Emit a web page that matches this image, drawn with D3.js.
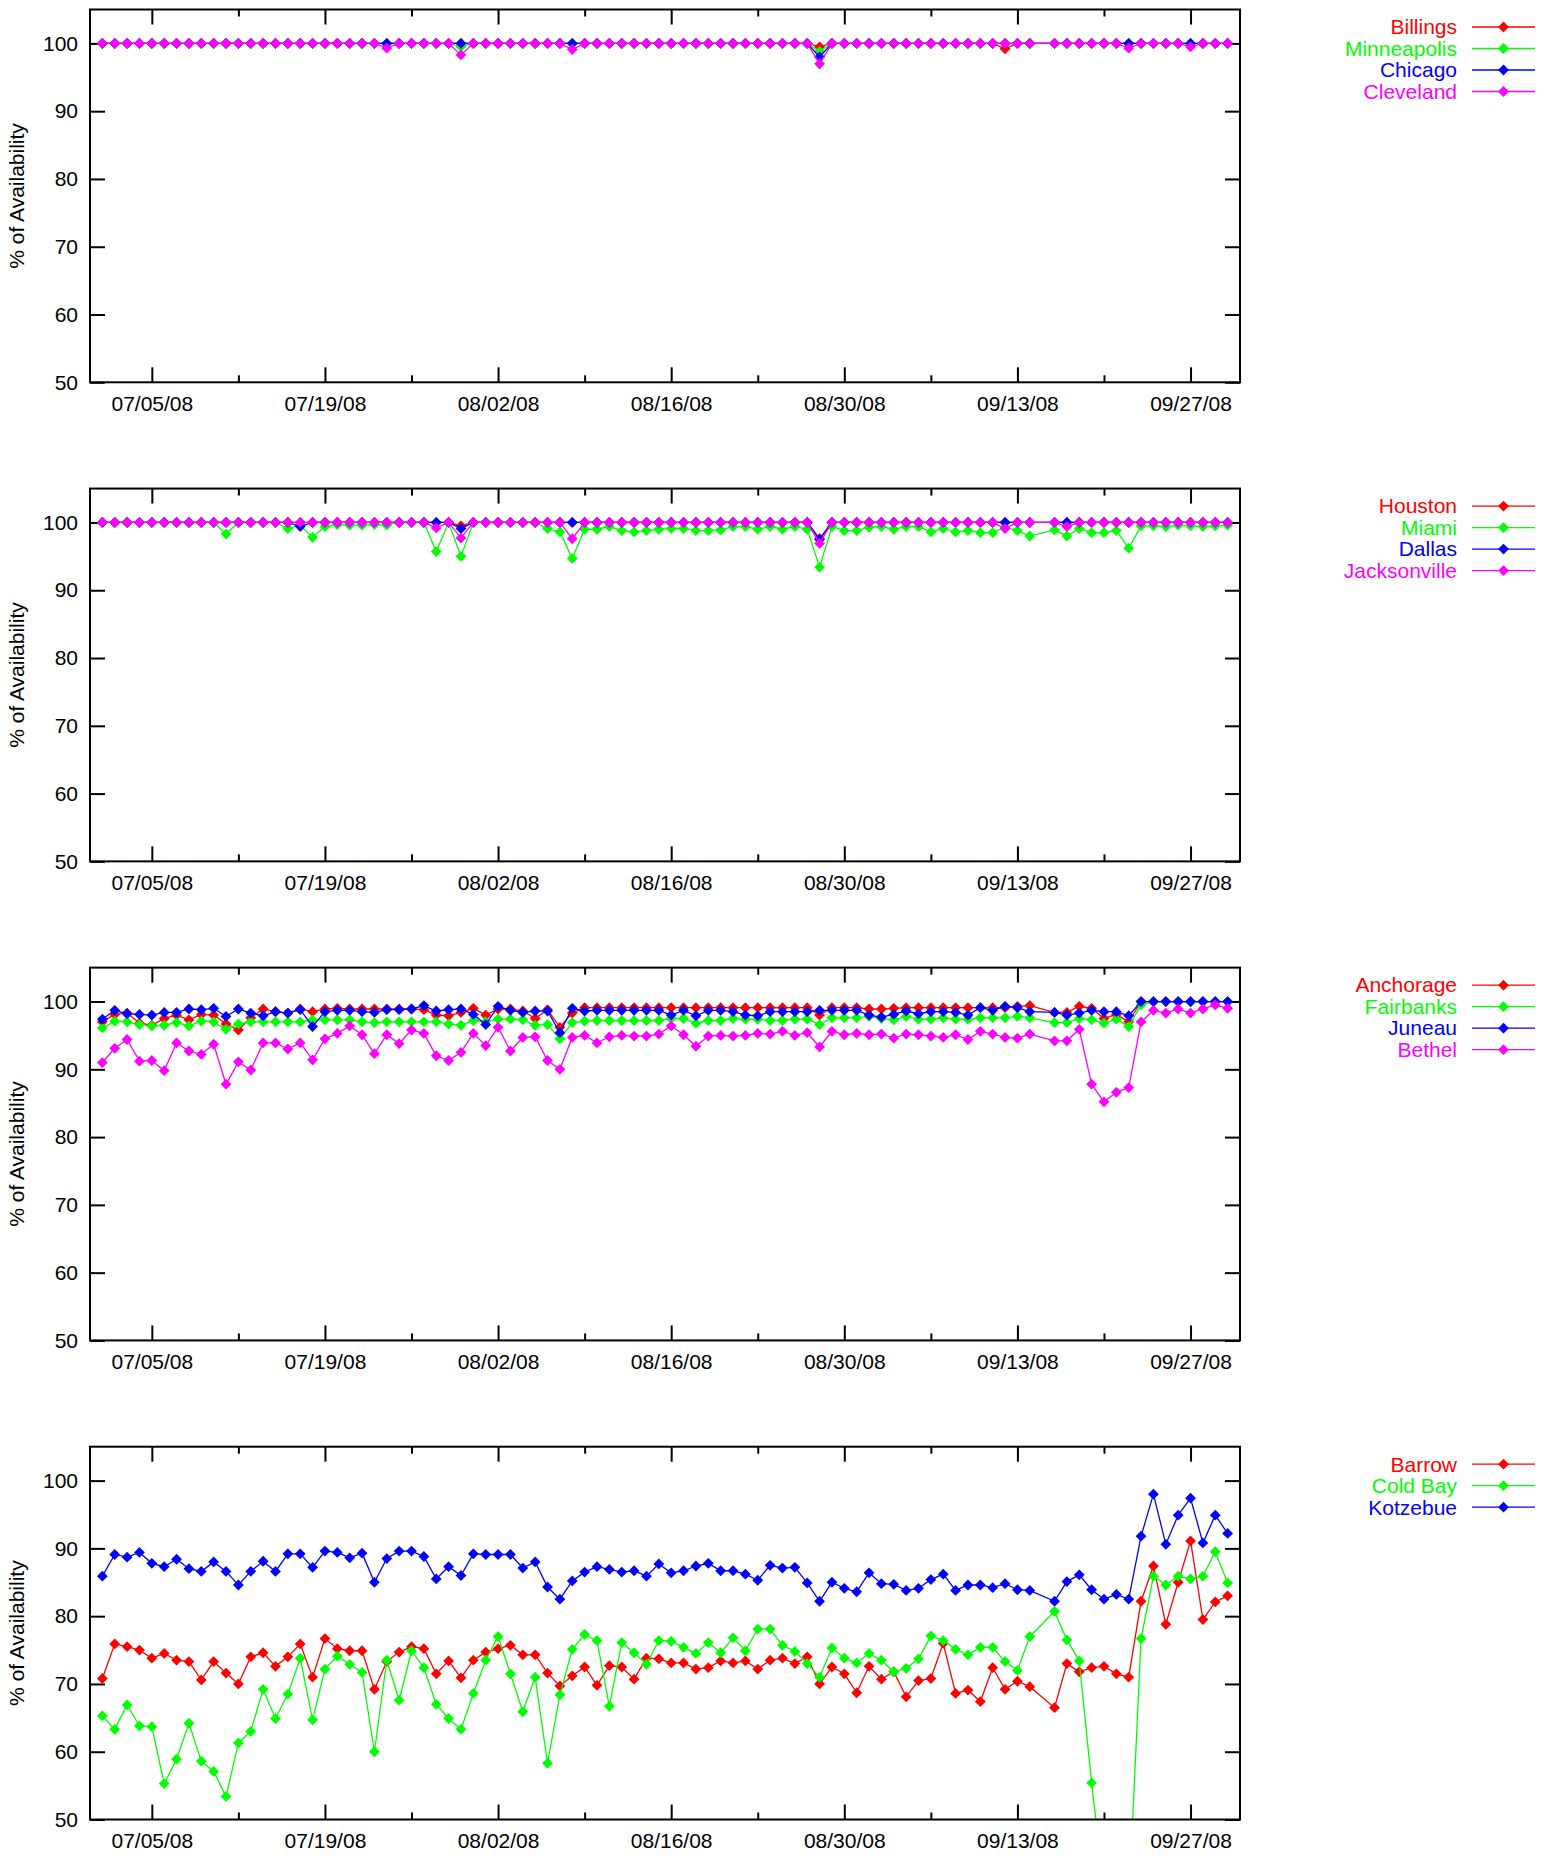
<!DOCTYPE html>
<html>
<head>
<meta charset="utf-8">
<script src="https://cdn.jsdelivr.net/npm/d3@7"></script>
<style>
  html, body { margin: 0; padding: 0; background: #fff; }
  svg { display: block; }
</style>
</head>
<body>
<svg id="chart" width="1551" height="1860"></svg>
<script>
// ---------- DATA ----------
const dates = [
  "07/01","07/02","07/03","07/04","07/05","07/06","07/07","07/08","07/09","07/10",
  "07/11","07/12","07/13","07/14","07/15","07/16","07/17","07/18","07/19","07/20",
  "07/21","07/22","07/23","07/24","07/25","07/26","07/27","07/28","07/29","07/30",
  "07/31",
  "08/01","08/02","08/03","08/04","08/05","08/06","08/07","08/08","08/09","08/10",
  "08/11","08/12","08/13","08/14","08/15","08/16","08/17","08/18","08/19","08/20",
  "08/21","08/22","08/23","08/24","08/25","08/26","08/27","08/28","08/29","08/30",
  "08/31",
  "09/01","09/02","09/03","09/04","09/05","09/06","09/07","09/08","09/09","09/10",
  "09/11","09/12","09/13","09/14",
  "09/16","09/17","09/18","09/19","09/20","09/21","09/22","09/23","09/24","09/25",
  "09/26","09/27","09/28","09/29","09/30"
];

const majorTickLabels = ["07/05/08","07/19/08","08/02/08","08/16/08","08/30/08","09/13/08","09/27/08"];
const minorTickLabels = ["07/12/08","07/26/08","08/09/08","08/23/08","09/06/08","09/20/08"];
const yTicks = [50, 60, 70, 80, 90, 100];

// Panel 1
const billings = [
  100,100,100,100,100,100,100,100,100,100, 100,100,100,100,100,100,100,100,100,100, 100,100,100,100,100,100,100,100,100,100, 100,
  100,100,100,100,100,100,100,100,100,100, 100,100,100,100,100,100,100,100,100,100, 100,100,100,100,100,100,100,99.5,100,100, 100,
  100,100,100,100,100,100,100,100,100,100, 100,99.2,100,100, 100,100,100,100,100,100,100,100,100,100, 100,100,100,100,100
];
const minneapolis = [
  100,100,100,100,100,100,100,100,100,100, 100,100,100,100,100,100,100,100,100,100, 100,100,100,100,100,100,100,100,100,99.5, 100,
  100,100,100,100,100,100,100,100,100,100, 100,100,100,100,100,100,100,100,100,100, 100,100,100,100,100,100,100,98.8,100,100, 100,
  100,100,100,100,100,100,100,100,100,100, 100,100,100,100, 100,100,100,100,100,100,100,100,100,100, 100,100,100,100,100
];
const chicago = [
  100,100,100,100,100,100,100,100,100,100, 100,100,100,100,100,100,100,100,100,100, 100,100,100,100,100,100,100,100,100,100, 100,
  100,100,100,100,100,100,100,100,100,100, 100,100,100,100,100,100,100,100,100,100, 100,100,100,100,100,100,100,98.0,100,100, 100,
  100,100,100,100,100,100,100,100,100,100, 100,100,100,100, 100,100,100,100,100,100,100,100,100,100, 100,100,100,100,100
];
const cleveland = [
  100,100,100,100,100,100,100,100,100,100, 100,100,100,100,100,100,100,100,100,100, 100,100,100,99.3,100,100,100,100,100,98.3, 100,
  100,100,100,100,100,100,100,99.1,100,100, 100,100,100,100,100,100,100,100,100,100, 100,100,100,100,100,100,100,97.0,100,100, 100,
  100,100,100,100,100,100,100,100,100,100, 100,100,100,100, 100,100,100,100,100,100,99.3,100,100,100, 100,99.5,100,100,100
];

// Panel 2
const houston = [
  100,100,100,100,100,100,100,100,100,100, 100,100,100,100,100,100,100,100,100,100, 100,100,100,100,100,100,100,100,100,99.5, 100,
  100,100,100,100,100,100,100,100,100,100, 100,100,100,100,100,100,100,100,100,100, 100,100,100,100,100,100,100,97.6,100,100, 100,
  100,100,100,100,100,100,100,100,100,100, 100,100,100,100, 100,100,100,100,100,100,100,100,100,100, 100,100,100,100,100
];
const miami = [
  100,100,100,100,100,100,100,100,100,100, 98.3,100,100,100,100,99.1,99.6,97.8,99.4,99.7, 99.6,99.6,99.7,99.6,100,100,100,95.7,100,95.0, 100,
  100,100,100,100,100,99.1,98.6,94.7,99.0,99.0, 99.4,98.8,98.6,98.8,99.0,99.1,99.1,98.8,98.8,98.9, 99.4,99.4,99.0,99.4,99.0,99.4,99.0,93.4,99.4,98.8, 98.8,
  99.3,99.4,99.0,99.4,99.4,98.6,99.1,98.6,98.8,98.5, 98.5,99.3,98.8,98.0, 98.9,98.0,99.1,98.5,98.5,98.8,96.2,99.5,99.5,99.4, 99.6,99.5,99.4,99.5,99.6
];
const dallas = [
  100,100,100,100,100,100,100,100,100,100, 100,100,100,100,100,100,99.4,100,100,100, 100,100,100,100,100,100,100,100,100,99.1, 100,
  100,100,100,100,100,100,100,100,100,100, 100,100,100,100,100,100,100,100,100,100, 100,100,100,100,100,100,100,97.5,100,100, 100,
  100,100,100,100,100,100,100,100,100,100, 100,100,100,100, 100,100,100,100,100,100,100,100,100,100, 100,100,100,100,100
];
const jacksonville = [
  100,100,100,100,100,100,100,100,100,100, 100,100,100,100,100,100,100,100,100,100, 100,100,100,100,100,100,100,99.2,100,97.7, 100,
  100,100,100,100,100,100,100,97.6,100,100, 100,100,100,100,100,100,100,100,100,100, 100,100,100,100,100,100,100,96.9,100,100, 100,
  100,100,100,100,100,100,100,100,100,100, 100,99.1,100,100, 100,99.4,100,100,100,100,100,100,100,100, 100,100,100,100,100
];

// Panel 3
const anchorage = [
  97.0,98.1,98.3,96.8,96.5,97.5,98.0,97.3,98.1,98.0, 96.7,95.8,97.6,98.9,98.5,98.3,98.9,98.5,98.9,99.0, 98.9,98.9,98.9,98.9,98.9,98.9,98.8,98.0,97.9,98.4, 99.0,
  98.0,98.9,98.9,98.6,97.5,98.8,96.2,98.3,99.1,99.1, 99.1,99.1,99.1,99.1,99.1,99.1,99.1,99.1,99.1,99.1, 99.1,99.1,99.1,99.1,99.1,99.1,99.1,98.0,99.1,99.1, 99.1,
  98.9,98.9,99.0,99.1,99.1,99.1,99.1,99.1,99.1,99.1, 99.1,99.1,99.3,99.4, 98.4,98.4,99.3,99.0,97.5,98.1,97.0,100,100,100, 100,100,100,100,100
];
const fairbanks = [
  96.1,97.1,97.0,96.6,96.4,96.5,96.9,96.4,97.1,97.0, 95.9,96.7,97.0,97.0,97.0,97.0,97.0,97.3,97.3,97.3, 97.3,97.0,96.9,97.0,97.0,97.0,97.0,97.0,96.7,96.5, 97.2,
  97.0,97.4,97.4,97.3,96.5,96.6,94.5,96.9,97.1,97.2, 97.2,97.2,97.2,97.2,97.2,97.5,97.5,96.8,97.2,97.2, 97.5,97.4,97.4,97.2,97.2,97.4,97.4,96.6,97.6,97.6, 97.6,
  97.8,97.5,97.3,97.8,97.4,97.4,97.6,97.4,97.4,97.6, 97.6,97.6,97.8,97.6, 96.9,96.9,97.5,97.3,96.8,97.4,96.3,99.5,100,100, 100,99.9,100,100,100
];
const juneau = [
  97.4,98.7,98.2,98.1,98.0,98.4,98.4,98.9,98.8,99.0, 97.8,98.9,98.3,97.9,98.5,98.3,98.8,96.3,98.5,98.7, 98.7,98.5,98.4,98.8,98.8,98.9,99.4,98.6,98.8,98.9, 98.1,
  96.6,99.3,98.7,98.4,98.6,98.6,95.4,99.0,98.6,98.7, 98.7,98.7,98.7,98.7,98.7,98.0,98.7,97.9,98.7,98.7, 98.5,98.0,97.9,98.5,98.5,98.5,98.5,98.7,98.7,98.7, 98.7,
  98.0,97.7,98.1,98.6,98.2,98.5,98.5,98.4,98.0,99.1, 98.7,99.3,99.1,98.5, 98.4,98.0,98.3,98.7,98.5,98.5,97.9,100,100,100, 100,100,100,100,100
];
const bethel = [
  91.0,93.1,94.4,91.2,91.3,89.8,93.9,92.7,92.2,93.7, 87.8,91.1,89.9,93.9,93.9,93.0,93.9,91.4,94.5,95.3, 96.4,95.1,92.3,95.1,93.8,95.8,95.3,92.0,91.3,92.5, 95.3,
  93.5,96.2,92.7,94.7,94.8,91.3,90.0,94.7,95.0,93.9, 94.8,95.0,94.9,94.9,95.2,96.4,95.1,93.4,94.9,95.0, 94.9,95.0,95.3,95.2,95.6,95.0,95.4,93.3,95.6,95.1, 95.3,
  95.1,95.2,94.6,95.2,95.1,94.9,94.7,95.1,94.4,95.6, 95.2,94.7,94.6,95.2, 94.2,94.2,95.9,87.8,85.2,86.6,87.3,97.0,98.7,98.3, 98.9,98.3,98.9,99.5,99.0
];

// Panel 4
const barrow = [
  70.8,75.9,75.5,75.0,73.8,74.5,73.5,73.3,70.6,73.3, 71.6,70.0,74.0,74.6,72.6,74.0,75.9,71.0,76.7,75.2, 74.9,74.9,69.2,73.3,74.7,75.5,75.2,71.5,73.4,70.9, 73.5,
  74.7,75.2,75.7,74.3,74.3,71.6,69.7,71.2,72.5,69.8, 72.7,72.5,70.7,73.8,73.7,73.1,73.1,72.2,72.4,73.4, 73.1,73.4,72.2,73.5,73.8,73.0,74.0,70.0,72.5,71.5, 68.7,
  72.6,70.7,71.8,68.1,70.5,70.8,76.0,68.6,69.1,67.4, 72.4,69.2,70.4,69.6, 66.5,73.0,71.8,72.4,72.6,71.5,71.0,82.2,87.4,78.8, 85.0,91.1,79.5,82.1,83.0
];
const coldBay = [
  65.3,63.3,66.9,63.8,63.7,55.3,58.9,64.2,58.6,57.1, 53.4,61.3,63.0,69.2,64.9,68.5,73.8,64.7,72.2,74.1, 72.9,71.7,60.0,73.5,67.6,74.9,72.4,67.0,64.9,63.3, 68.6,
  73.5,77.0,71.5,65.9,71.0,58.3,68.4,75.1,77.3,76.4, 66.7,76.1,74.6,72.9,76.4,76.3,75.4,74.5,76.1,74.6, 76.8,74.9,78.1,78.1,75.7,74.8,73.0,71.0,75.3,73.8, 73.1,
  74.5,73.5,71.8,72.3,73.7,77.1,76.4,75.1,74.3,75.4, 75.4,73.3,72.0,77.0, 80.7,76.5,73.4,55.4,39.5,38.0,37.4,76.7,85.9,84.6, 85.9,85.5,85.9,89.5,84.9
];
const kotzebue = [
  85.9,89.1,88.7,89.4,87.8,87.3,88.4,87.0,86.6,88.0, 86.6,84.6,86.6,88.1,86.6,89.2,89.2,87.2,89.6,89.4, 88.6,89.3,85.0,88.5,89.6,89.6,88.8,85.5,87.3,86.0, 89.2,
  89.1,89.1,89.1,87.1,88.0,84.3,82.5,85.2,86.5,87.3, 86.9,86.5,86.7,85.9,87.7,86.4,86.7,87.4,87.8,86.7, 86.7,86.2,85.3,87.5,87.1,87.2,84.9,82.2,85.0,84.1, 83.6,
  86.4,84.8,84.7,83.8,84.1,85.4,86.2,83.8,84.6,84.6, 84.2,84.8,83.9,83.8, 82.2,85.1,86.1,83.9,82.5,83.2,82.5,91.8,98.0,90.6, 94.9,97.4,90.8,94.9,92.2
];

const panelNames = [
  ["Billings","Minneapolis","Chicago","Cleveland"],
  ["Houston","Miami","Dallas","Jacksonville"],
  ["Anchorage","Fairbanks","Juneau","Bethel"],
  ["Barrow","Cold Bay","Kotzebue"]
];
const panelValues = [
  [billings, minneapolis, chicago, cleveland],
  [houston, miami, dallas, jacksonville],
  [anchorage, fairbanks, juneau, bethel],
  [barrow, coldBay, kotzebue]
];
const seriesColors = ["#ff0000", "#00ff00", "#0000ff", "#ff00ff"];
const yLabel = "% of Availability";

// ---------- CHECK ----------
panelValues.forEach((p, i) => p.forEach((s, j) => {
  if (s.length !== dates.length) throw new Error("Length mismatch " + panelNames[i][j] + ": " + s.length + " vs " + dates.length);
}));

// ---------- DRAW ----------
const FONT = "'Liberation Sans', Arial, Helvetica, sans-serif";
const FS = 21;
const svg = d3.select("#chart");
svg.append("rect").attr("width", 1551).attr("height", 1860).attr("fill", "#fff");

const parseMD = s => { const [m, d] = s.split("/").map(Number); return new Date(Date.UTC(2008, m - 1, d)); };
const parseMDY = d3.utcParse("%m/%d/%y");
const xDates = dates.map(parseMD);
const majorTicks = majorTickLabels.map(parseMDY);
const minorTicks = minorTickLabels.map(parseMDY);

const left = 90, right = 1240;
const panelTop0 = 9.5, panelStep = 479.07, panelH = 372.8;

const x = d3.scaleUtc()
  .domain([new Date(Date.UTC(2008, 5, 30)), new Date(Date.UTC(2008, 9, 1))])
  .range([left, right]);

const diamond = r => `M0,${-r}L${r},0L0,${r}L${-r},0Z`;
const R = 5.4;

panelValues.forEach((series, pi) => {
  const top = panelTop0 + pi * panelStep;
  const bottom = top + panelH;
  const y = d3.scaleLinear().domain([50, 105]).range([bottom, top]);
  const g = svg.append("g");

  // clip
  const clipId = "clip" + pi;
  svg.append("clipPath").attr("id", clipId)
    .append("rect").attr("x", left).attr("y", top).attr("width", right - left).attr("height", bottom - top);

  // axes
  const axB = g.append("g").attr("transform", `translate(0,${bottom})`)
    .call(d3.axisBottom(x).tickValues(majorTicks).tickSizeInner(-15).tickSizeOuter(0)
      .tickPadding(14).tickFormat(d3.utcFormat("%m/%d/%y")));
  const axT = g.append("g").attr("transform", `translate(0,${top})`)
    .call(d3.axisTop(x).tickValues(majorTicks).tickSizeInner(-15).tickSizeOuter(0).tickFormat(""));
  const axBm = g.append("g").attr("transform", `translate(0,${bottom})`)
    .call(d3.axisBottom(x).tickValues(minorTicks).tickSizeInner(-7).tickSizeOuter(0).tickFormat(""));
  const axTm = g.append("g").attr("transform", `translate(0,${top})`)
    .call(d3.axisTop(x).tickValues(minorTicks).tickSizeInner(-7).tickSizeOuter(0).tickFormat(""));
  const axL = g.append("g").attr("transform", `translate(${left},0)`)
    .call(d3.axisLeft(y).tickValues(yTicks).tickSizeInner(-15).tickSizeOuter(0).tickPadding(12));
  const axR = g.append("g").attr("transform", `translate(${right},0)`)
    .call(d3.axisRight(y).tickValues(yTicks).tickSizeInner(-15).tickSizeOuter(0).tickFormat(""));
  [axB, axT, axBm, axTm, axL, axR].forEach(a => {
    a.select(".domain").remove();
    a.attr("font-family", FONT).attr("font-size", FS);
    a.selectAll(".tick line").attr("stroke", "#000").attr("stroke-width", 2);
    a.selectAll(".tick text").attr("fill", "#000");
  });

  // series
  const plot = g.append("g").attr("clip-path", `url(#${clipId})`);
  series.forEach((vals, si) => {
    const color = seriesColors[si];
    const pts = vals.map((v, i) => [xDates[i], v]);
    plot.append("path")
      .attr("d", d3.line().x(d => x(d[0])).y(d => y(d[1]))(pts))
      .attr("fill", "none").attr("stroke", color).attr("stroke-width", 1.3);
    plot.append("g").selectAll("path").data(pts).join("path")
      .attr("transform", d => `translate(${x(d[0])},${y(d[1])})`)
      .attr("d", diamond(R)).attr("fill", color);
  });

  // frame
  g.append("rect").attr("x", left).attr("y", top).attr("width", right - left).attr("height", bottom - top)
    .attr("fill", "none").attr("stroke", "#000").attr("stroke-width", 2);

  // y label
  g.append("text")
    .attr("transform", `translate(24,${(top + bottom) / 2}) rotate(-90)`)
    .attr("text-anchor", "middle")
    .attr("font-family", FONT).attr("font-size", FS).attr("fill", "#000")
    .text(yLabel);

  // legend
  const lg = g.append("g");
  panelNames[pi].forEach((name, si) => {
    const ly = top + 17.5 + si * 21.5;
    const color = seriesColors[si];
    lg.append("text").attr("x", 1457).attr("y", ly).attr("dy", "0.35em")
      .attr("text-anchor", "end").attr("font-family", FONT).attr("font-size", FS)
      .attr("fill", color).text(name);
    lg.append("line").attr("x1", 1472).attr("x2", 1535).attr("y1", ly).attr("y2", ly)
      .attr("stroke", color).attr("stroke-width", 1.3);
    lg.append("path").attr("transform", `translate(1503.5,${ly})`).attr("d", diamond(R)).attr("fill", color);
  });
});
</script>
</body>
</html>
